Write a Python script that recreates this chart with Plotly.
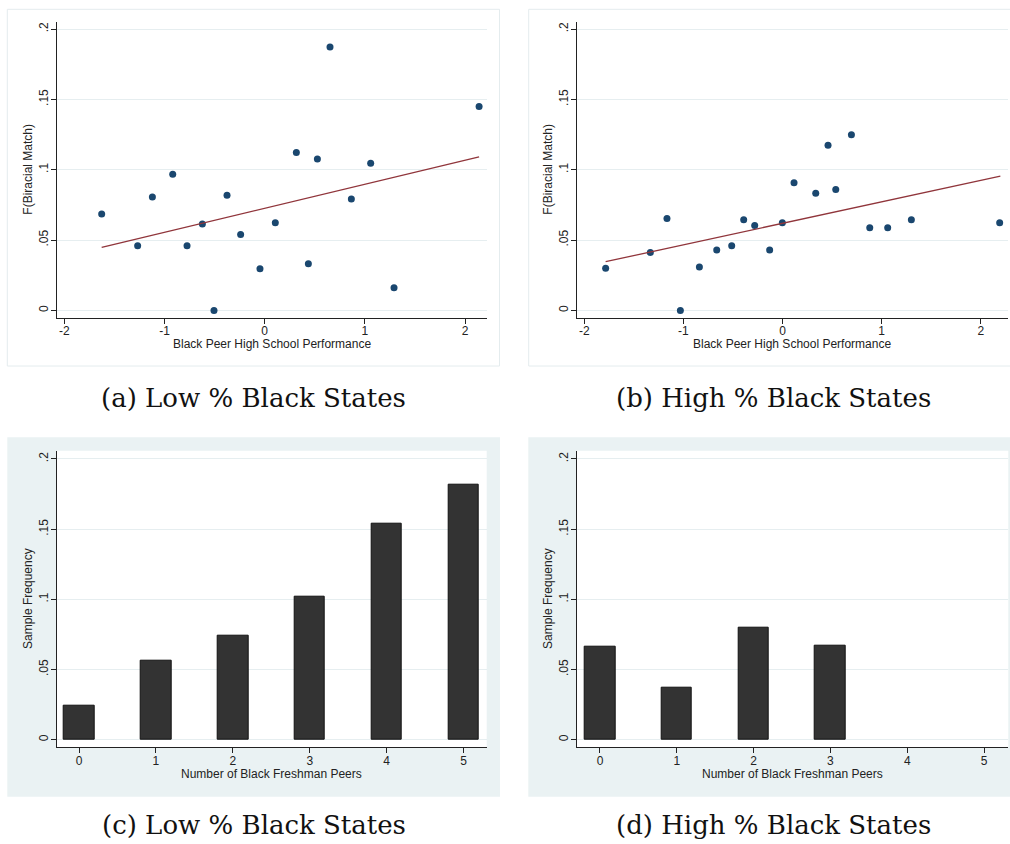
import plotly.graph_objects as go

W, H = 1010, 844

# ---------------- data ----------------
# Panel (a): Low % Black States scatter
a_x = [-1.627, -1.268, -1.121, -0.918, -0.775, -0.622, -0.506, -0.376, -0.240, -0.047,
       0.106, 0.316, 0.436, 0.526, 0.652, 0.865, 1.058, 1.291, 2.140]
a_y = [0.0685, 0.0460, 0.0806, 0.0967, 0.0460, 0.0614, 0.0000, 0.0818, 0.0540, 0.0296,
       0.0623, 0.1123, 0.0332, 0.1076, 0.1872, 0.0791, 0.1045, 0.0161, 0.1450]
a_fit_x = [-1.627, 2.140]
a_fit_y = [0.0448, 0.1092]

# Panel (b): High % Black States scatter
b_x = [-1.785, -1.334, -1.166, -1.031, -0.839, -0.664, -0.513, -0.392, -0.281, -0.130,
       -0.002, 0.116, 0.335, 0.459, 0.537, 0.695, 0.880, 1.061, 1.300, 2.191]
b_y = [0.0299, 0.0412, 0.0654, 0.0000, 0.0308, 0.0429, 0.0460, 0.0645, 0.0604, 0.0429,
       0.0623, 0.0908, 0.0832, 0.1173, 0.0860, 0.1249, 0.0588, 0.0588, 0.0645, 0.0623]
b_fit_x = [-1.785, 2.198]
b_fit_y = [0.0346, 0.0955]

# Panels (c), (d): bar charts
peers = [0, 1, 2, 3, 4, 5]
c_freq = [0.0245, 0.0565, 0.0743, 0.1021, 0.1539, 0.1819]
d_freq = [0.0665, 0.0373, 0.0800, 0.0670, 0.0, 0.0]

y_tickvals = [0, 0.05, 0.1, 0.15, 0.2]
y_ticktext = ["0", ".05", ".1", ".15", ".2"]
xs_tickvals = [-2, -1, 0, 1, 2]
xs_ticktext = ["-2", "-1", "0", "1", "2"]
xb_tickvals = [0, 1, 2, 3, 4, 5]
xb_ticktext = ["0", "1", "2", "3", "4", "5"]

captions = ["(a) Low % Black States", "(b) High % Black States",
            "(c) Low % Black States", "(d) High % Black States"]
xtitles = ["Black Peer High School Performance", "Black Peer High School Performance",
           "Number of Black Freshman Peers", "Number of Black Freshman Peers"]
ytitles = ["F(Biracial Match)", "F(Biracial Match)", "Sample Frequency", "Sample Frequency"]

# ---------------- styling ----------------
NAVY = "#1A476F"
MAROON = "#90353B"
BAR = "#333333"
GRAPHBG = "#EAF2F3"
GRID = "#E6EEF0"
SANS = "Liberation Sans, Arial, sans-serif"
SERIF = "DejaVu Serif, serif"


def fx(px):
    return px / W


def fy(py):
    return 1 - py / H


# plot regions in pixels: (left, right, top, bottom)
regions = [
    (56.7, 487.0, 21.7, 317.7),
    (576.7, 1008.0, 21.7, 317.7),
    (56.7, 486.7, 450.7, 747.3),
    (576.7, 1008.3, 450.7, 747.3),
]
xranges = [[-2.076, 2.219], [-2.077, 2.275], [-0.29, 5.30], [-0.303, 5.316]]
yranges = [[-0.0052, 0.2052], [-0.0052, 0.2052], [-0.0054, 0.2059], [-0.0054, 0.2059]]
# outer graph regions (left, right, top, bottom)
outer = [
    (7.3, 499.5, 9.3, 366.0),
    (528.7, 1012.0, 9.3, 366.0),
    (7.3, 500.0, 437.3, 796.7),
    (528.3, 1012.0, 437.3, 796.7),
]
cap_x = [253.5, 773.3, 253.5, 773.3]
cap_y = [398.5, 398.5, 824.5, 824.5]

fig = go.Figure()

fig.add_trace(go.Scatter(x=a_x, y=a_y, mode="markers", xaxis="x", yaxis="y",
                         marker=dict(color=NAVY, size=7), showlegend=False))
fig.add_trace(go.Scatter(x=a_fit_x, y=a_fit_y, mode="lines", xaxis="x", yaxis="y",
                         line=dict(color=MAROON, width=1.3), showlegend=False))
fig.add_trace(go.Scatter(x=b_x, y=b_y, mode="markers", xaxis="x2", yaxis="y2",
                         marker=dict(color=NAVY, size=7), showlegend=False))
fig.add_trace(go.Scatter(x=b_fit_x, y=b_fit_y, mode="lines", xaxis="x2", yaxis="y2",
                         line=dict(color=MAROON, width=1.3), showlegend=False))
for vals, xa, ya in [(c_freq, "x3", "y3"), (d_freq, "x4", "y4")]:
    fig.add_trace(go.Bar(
        x=peers, y=vals, xaxis=xa, yaxis=ya, width=0.4,
        marker=dict(color=BAR, line=dict(color="#111111",
                                         width=[1 if v > 0 else 0 for v in vals])),
        showlegend=False))

shapes = []
annotations = []
layout = {}
for i in range(4):
    l, r, t, b = regions[i]
    ol, orr, ot, ob = outer[i]
    if i < 2:
        shapes.append(dict(type="rect", xref="paper", yref="paper", layer="below",
                           x0=fx(ol), x1=fx(orr), y0=fy(ob), y1=fy(ot),
                           fillcolor="white", line=dict(color="#E4ECEE", width=1)))
    else:
        shapes.append(dict(type="rect", xref="paper", yref="paper", layer="below",
                           x0=fx(ol), x1=fx(orr), y0=fy(ob), y1=fy(ot),
                           fillcolor=GRAPHBG, line=dict(width=0)))
        shapes.append(dict(type="rect", xref="paper", yref="paper", layer="below",
                           x0=fx(l), x1=fx(r), y0=fy(b), y1=fy(t),
                           fillcolor="white", line=dict(width=0)))
    sfx = "" if i == 0 else str(i + 1)
    xtv = xs_tickvals if i < 2 else xb_tickvals
    xtt = xs_ticktext if i < 2 else xb_ticktext
    layout["xaxis" + sfx] = dict(
        domain=[fx(l), fx(r)], range=xranges[i], anchor="y" + sfx,
        tickmode="array", tickvals=xtv, ticktext=xtt,
        ticks="outside", ticklen=5, tickwidth=1, tickcolor="#222222",
        ticklabelstandoff=-3,
        showline=True, linecolor="#222222", linewidth=1.2,
        showgrid=False, zeroline=False,
        tickfont=dict(family=SANS, size=12, color="#222222"),
        fixedrange=True,
    )
    layout["yaxis" + sfx] = dict(
        domain=[fy(b), fy(t)], range=yranges[i], anchor="x" + sfx,
        tickmode="array", tickvals=y_tickvals, ticktext=y_ticktext,
        ticks="outside", ticklen=5, tickwidth=1, tickcolor="#222222",
        tickangle=-90, ticklabelstandoff=-2,
        showline=True, linecolor="#222222", linewidth=1.2,
        showgrid=True, gridcolor=GRID, gridwidth=1, zeroline=False,
        tickfont=dict(family=SANS, size=12, color="#222222"),
        fixedrange=True,
    )
    # axis titles
    annotations.append(dict(text=xtitles[i], xref="paper", yref="paper",
                            x=fx((l + r) / 2), y=fy(b + 26.5), xanchor="center",
                            yanchor="middle", showarrow=False,
                            font=dict(family=SANS, size=12, color="#222222")))
    annotations.append(dict(text=ytitles[i], xref="paper", yref="paper",
                            x=fx(l - 28.7), y=fy((t + b) / 2), xanchor="center",
                            yanchor="middle", showarrow=False, textangle=-90,
                            font=dict(family=SANS, size=12, color="#222222")))
    # captions
    annotations.append(dict(text=captions[i], xref="paper", yref="paper",
                            x=fx(cap_x[i]), y=fy(cap_y[i]), xanchor="center",
                            yanchor="middle", showarrow=False,
                            font=dict(family=SERIF, size=26, color="#111111")))

fig.update_layout(
    width=W, height=H, margin=dict(l=0, r=0, t=0, b=0),
    paper_bgcolor="white", plot_bgcolor="white",
    shapes=shapes, annotations=annotations, bargap=0,
    **layout,
)

fig.write_html("out.html",
               config={"displayModeBar": False},
               post_script="document.body.style.margin='0';"
                           "document.body.style.overflow='hidden';")
